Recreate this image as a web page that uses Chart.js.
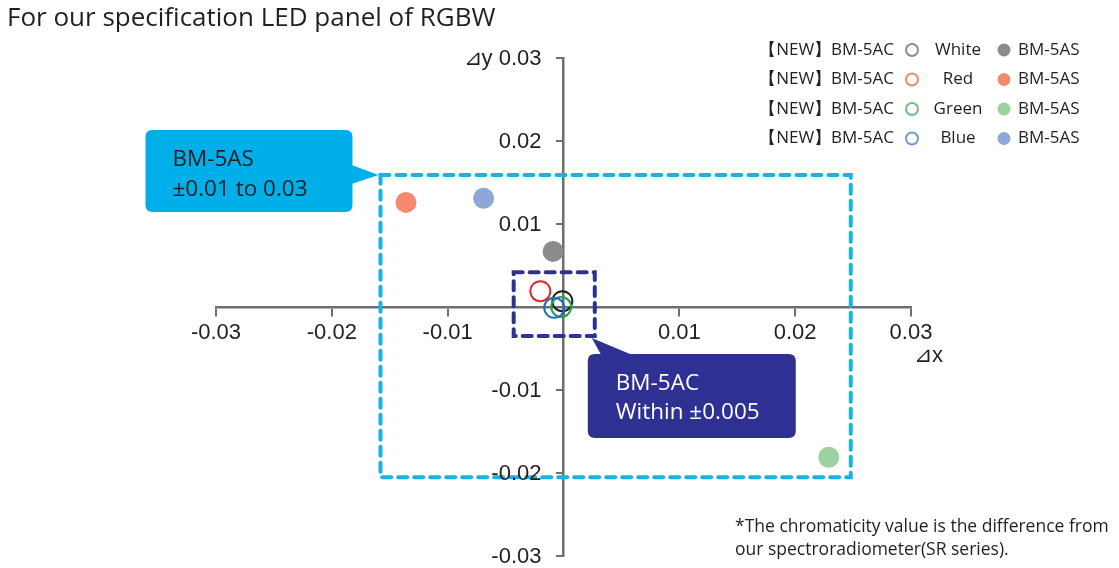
<!DOCTYPE html>
<html>
<head>
<meta charset="utf-8">
<script src="https://cdn.jsdelivr.net/npm/chart.js@4.4.1/dist/chart.umd.min.js"></script>
<style>
  html, body { margin: 0; padding: 0; background: #fff; }
  #wrap { width: 1119px; height: 568px; position: relative; }
</style>
</head>
<body>
<div id="wrap"><canvas id="chromaChart" width="1119" height="568"></canvas></div>
<script>
// Данные
const colorNames = ['White', 'Red', 'Green', 'Blue'];
const newLabel = '【NEW】BM-5AC';
const oldLabel = 'BM-5AS';
const acX = [-0.0001, -0.0020, -0.0002, -0.0008];
const acY = [0.0007, 0.0019, 0.0000, -0.0001];
const asX = [-0.0009, -0.0136, 0.0229, -0.0069];
const asY = [0.0067, 0.0126, -0.0181, 0.0131];
const tickValues = [-0.03, -0.02, -0.01, 0, 0.01, 0.02, 0.03];

// Цвета
const acPlotColors = ['#231f20', '#e8262b', '#27a348', '#1c6ec2'];
const acLegendColors = ['#8c8c8e', '#f3896c', '#6dbf80', '#6f9bd9'];
const asColors = ['#8b8b8d', '#f58b6e', '#9cd1a2', '#8ea7d7'];

// Пунктирные рамки (в единицах данных)
const wideBox = { x1: -0.0158, x2: 0.0248, y1: 0.0159, y2: -0.0205 };
const narrowBox = { x1: -0.0043, x2: 0.0027, y1: 0.0042, y2: -0.0035 };

const textFont = '"Open Sans", "Noto Sans", sans-serif';
const tickFont = '"Liberation Sans", Arial, sans-serif';

function fmt(v) {
    if (Math.abs(v) < 1e-9) return '';
    return v.toFixed(2);
}

function dashedRect(ctx, chart, b, color) {
    const xs = chart.scales.x, ys = chart.scales.y;
    const l = xs.getPixelForValue(b.x1), r = xs.getPixelForValue(b.x2);
    const t = ys.getPixelForValue(b.y1), bt = ys.getPixelForValue(b.y2);
    ctx.save();
    ctx.strokeStyle = color;
    ctx.lineWidth = 4;
    ctx.setLineDash([9, 7]);
    ctx.lineCap = 'round';
    ctx.strokeRect(l, t, r - l, bt - t);
    ctx.restore();
    return { l, r, t, b: bt };
}

function roundRect(ctx, x, y, w, h, rad) {
    ctx.beginPath();
    ctx.moveTo(x + rad, y);
    ctx.lineTo(x + w - rad, y);
    ctx.quadraticCurveTo(x + w, y, x + w, y + rad);
    ctx.lineTo(x + w, y + h - rad);
    ctx.quadraticCurveTo(x + w, y + h, x + w - rad, y + h);
    ctx.lineTo(x + rad, y + h);
    ctx.quadraticCurveTo(x, y + h, x, y + h - rad);
    ctx.lineTo(x, y + rad);
    ctx.quadraticCurveTo(x, y, x + rad, y);
    ctx.closePath();
}

const decorPlugin = {
    id: 'decor',
    beforeDatasetsDraw(chart) {
        const ctx = chart.ctx;
        const wb = dashedRect(ctx, chart, wideBox, '#1bb1e7');
        const nb = dashedRect(ctx, chart, narrowBox, '#2e3192');

        // Выноска BM-5AS
        ctx.save();
        ctx.fillStyle = '#00aee9';
        roundRect(ctx, wb.l - 235, wb.t - 45, 207, 82, 7);
        ctx.fill();
        ctx.beginPath();
        ctx.moveTo(wb.l - 29, wb.t - 10);
        ctx.lineTo(wb.l - 2, wb.t);
        ctx.lineTo(wb.l - 29, wb.t + 9);
        ctx.closePath();
        ctx.fill();
        ctx.fillStyle = '#231f20';
        ctx.font = '22.5px ' + textFont;
        ctx.textBaseline = 'middle';
        ctx.fillText('BM-5AS', wb.l - 208, wb.t - 15);
        ctx.fillText('±0.01 to 0.03', wb.l - 208, wb.t + 15);

        // Выноска BM-5AC
        ctx.fillStyle = '#2e3192';
        roundRect(ctx, nb.r - 7, nb.b + 18, 208, 84, 7);
        ctx.fill();
        ctx.beginPath();
        ctx.moveTo(nb.r - 3, nb.b + 2);
        ctx.lineTo(nb.r + 7, nb.b + 20);
        ctx.lineTo(nb.r + 40, nb.b + 20);
        ctx.closePath();
        ctx.fill();
        ctx.fillStyle = '#ffffff';
        ctx.fillText('BM-5AC', nb.r + 21, nb.b + 48);
        ctx.fillText('Within ±0.005', nb.r + 21, nb.b + 77);
        ctx.restore();
    },
    afterDraw(chart) {
        const ctx = chart.ctx;
        const xs = chart.scales.x, ys = chart.scales.y;
        ctx.save();
        // Заголовок
        ctx.fillStyle = '#231f20';
        ctx.textBaseline = 'middle';
        ctx.font = '26px ' + textFont;
        ctx.fillText('For our specification LED panel of RGBW', 7, 19);

        // Подписи оси y (слева от оси)
        ctx.font = '22px ' + tickFont;
        ctx.fillStyle = '#231f20';
        ctx.textAlign = 'right';
        const axisX = xs.getPixelForValue(0);
        ys.ticks.forEach(t => {
            let s = fmt(t.value);
            if (!s) return;
            if (Math.abs(t.value - 0.03) < 1e-9) s = '⊿y ' + s;
            ctx.fillText(s, axisX - 22, ys.getPixelForValue(t.value) + 1);
        });

        // Подпись оси x
        ctx.textAlign = 'left';
        ctx.fillText('⊿x', chart.chartArea.right + 3, 356);

        // Легенда
        ctx.font = '17px ' + textFont;
        colorNames.forEach((name, i) => {
            const y = 50 + i * 29.5;
            ctx.fillStyle = '#231f20';
            ctx.textAlign = 'right';
            ctx.fillText(newLabel, 894, y);
            ctx.textAlign = 'center';
            ctx.fillText(name, 958, y);
            ctx.textAlign = 'left';
            ctx.fillText(oldLabel, 1018, y);
            ctx.beginPath();
            ctx.arc(912, y, 6, 0, Math.PI * 2);
            ctx.lineWidth = 2;
            ctx.strokeStyle = acLegendColors[i];
            ctx.stroke();
            ctx.beginPath();
            ctx.arc(1004, y, 6.5, 0, Math.PI * 2);
            ctx.fillStyle = asColors[i];
            ctx.fill();
        });

        // Примечание
        ctx.textAlign = 'left';
        ctx.fillStyle = '#231f20';
        ctx.font = '17.5px ' + textFont;
        ctx.fillText('*The chromaticity value is the difference from', 735, 527);
        ctx.fillText('our spectroradiometer(SR series).', 735, 550);
        ctx.restore();
    }
};

const ctx = document.getElementById('chromaChart').getContext('2d');
const chromaChart = new Chart(ctx, {
    type: 'scatter',
    data: {
        datasets: [{
            label: newLabel,
            data: acX.map((x, i) => ({ x: x, y: acY[i] })),
            pointRadius: 10,
            pointHoverRadius: 10,
            pointBackgroundColor: 'rgba(0,0,0,0)',
            pointBorderColor: acPlotColors,
            pointBorderWidth: 2
        }, {
            label: oldLabel,
            data: asX.map((x, i) => ({ x: x, y: asY[i] })),
            pointRadius: 10.5,
            pointHoverRadius: 10.5,
            pointBackgroundColor: asColors,
            pointBorderWidth: 0
        }]
    },
    options: {
        responsive: false,
        animation: false,
        layout: { padding: { left: 216, right: 208, top: 58, bottom: 6 } },
        plugins: {
            legend: { display: false },
            tooltip: { enabled: false }
        },
        scales: {
            x: {
                type: 'linear',
                min: -0.03,
                max: 0.03,
                position: { y: 0 },
                afterBuildTicks: (axis) => { axis.ticks = tickValues.map(v => ({ value: v })); },
                grid: { display: true, drawOnChartArea: false, drawTicks: true, tickLength: 8, color: '#6d6e71', lineWidth: 2 },
                border: { display: true, color: '#6d6e71', width: 2.5 },
                ticks: {
                    color: '#231f20',
                    padding: 5,
                    maxRotation: 0,
                    autoSkip: false,
                    font: { family: tickFont, size: 22 },
                    callback: (v) => fmt(v)
                }
            },
            y: {
                type: 'linear',
                min: -0.03,
                max: 0.03,
                position: { x: 0 },
                afterBuildTicks: (axis) => { axis.ticks = tickValues.map(v => ({ value: v })); },
                grid: { display: true, drawOnChartArea: false, drawTicks: true, tickLength: 6, color: '#6d6e71', lineWidth: 2 },
                border: { display: true, color: '#6d6e71', width: 2.5 },
                ticks: { display: false }
            }
        }
    },
    plugins: [decorPlugin]
});
</script>
</body>
</html>
